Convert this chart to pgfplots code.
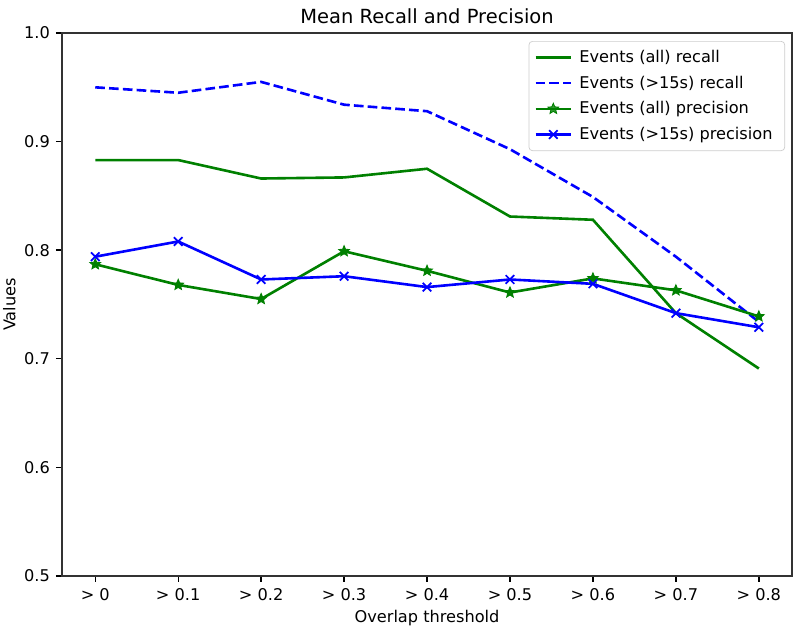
\documentclass[border=0pt]{standalone}
\usepackage{fontspec}
\setmainfont{DejaVu Sans}
\usepackage{pgfplots}
\pgfplotsset{compat=1.18}

% filled five-pointed star, like matplotlib's '*'
\pgfdeclareplotmark{fstar}{%
  \pgfpathmoveto{\pgfpointpolar{90}{\pgfplotmarksize}}%
  \pgfpathlineto{\pgfpointpolar{126}{0.45\pgfplotmarksize}}%
  \pgfpathlineto{\pgfpointpolar{162}{\pgfplotmarksize}}%
  \pgfpathlineto{\pgfpointpolar{198}{0.45\pgfplotmarksize}}%
  \pgfpathlineto{\pgfpointpolar{234}{\pgfplotmarksize}}%
  \pgfpathlineto{\pgfpointpolar{270}{0.45\pgfplotmarksize}}%
  \pgfpathlineto{\pgfpointpolar{306}{\pgfplotmarksize}}%
  \pgfpathlineto{\pgfpointpolar{342}{0.45\pgfplotmarksize}}%
  \pgfpathlineto{\pgfpointpolar{18}{\pgfplotmarksize}}%
  \pgfpathlineto{\pgfpointpolar{54}{0.45\pgfplotmarksize}}%
  \pgfpathclose
  \pgfusepathqfillstroke
}

\definecolor{mplgreen}{rgb}{0,0.5,0}
\definecolor{mplblue}{rgb}{0,0,1}

\begin{document}
\begin{tikzpicture}
\begin{axis}[
    name=ax,
    scale only axis,
    width=419.8pt, height=312.2pt,
    xmin=-0.4, xmax=8.4,
    ymin=0.5, ymax=1.0,
    xtick={0,1,2,3,4,5,6,7,8},
    xticklabels={{> 0},{> 0.1},{> 0.2},{> 0.3},{> 0.4},{> 0.5},{> 0.6},{> 0.7},{> 0.8}},
    ytick={0.5,0.6,0.7,0.8,0.9,1.0},
    yticklabel style={/pgf/number format/.cd,fixed,fixed zerofill,precision=1,assume math mode=true},
    tick align=outside,
    xtick pos=bottom, ytick pos=left,
    major tick length=3.5pt,
    every tick/.style={black, line width=0.8pt},
    axis line style={line width=0.8pt, black!80},
    tick label style={font=\fontsize{9.3}{11}\selectfont},
    title={Mean Recall and Precision},
    title style={font=\fontsize{11.2}{13}\selectfont, yshift=-4pt},
    xlabel={Overlap threshold},
    ylabel={Values},
    xlabel shift=-1pt,
    ylabel shift=-2pt,
    label style={font=\fontsize{9.3}{11}\selectfont},
    legend cell align=left,
    legend style={
        at={(1,1)}, anchor=north east, xshift=-4pt, yshift=-4.6pt,
        draw=black!20, rounded corners=2pt, fill=white, fill opacity=0.8, text opacity=1,
        font=\fontsize{9.3}{11}\selectfont,
        row sep=2.2pt, inner sep=3pt,
        nodes={inner xsep=4pt},
    },
    legend image code/.code={\draw[line width=1.5pt, mark repeat=2, mark phase=2] plot coordinates {(0cm,0cm) (0.36cm,0cm) (0.72cm,0cm)};},
]
\addplot[mplgreen, line width=1.5pt, solid, mark=none] coordinates {
    (0,0.883) (1,0.883) (2,0.866) (3,0.867) (4,0.875)
    (5,0.831) (6,0.828) (7,0.742) (8,0.691)
};
\addlegendentry{Events (all) recall}
\addplot[mplblue, line width=1.5pt, dash pattern=on 5.55pt off 2.4pt, mark=none] coordinates {
    (0,0.950) (1,0.945) (2,0.955) (3,0.934) (4,0.928)
    (5,0.893) (6,0.849) (7,0.794) (8,0.734)
};
\addlegendentry{Events (>15s) recall}
\addplot[mplgreen, line width=1.5pt, solid, mark=fstar, mark size=3.2pt, mark options={solid, line width=0.5pt, fill=mplgreen}] coordinates {
    (0,0.787) (1,0.768) (2,0.755) (3,0.799) (4,0.781)
    (5,0.761) (6,0.774) (7,0.763) (8,0.739)
};
\addlegendentry{Events (all) precision}
\addplot[mplblue, line width=1.5pt, solid, mark=x, mark size=3.5pt, mark options={solid, line width=1pt}] coordinates {
    (0,0.794) (1,0.808) (2,0.773) (3,0.776) (4,0.766)
    (5,0.773) (6,0.769) (7,0.742) (8,0.729)
};
\addlegendentry{Events (>15s) precision}
\end{axis}
\pgfresetboundingbox
\path[use as bounding box] ([shift={(-35.7pt,-31.6pt)}]ax.south west) rectangle ([shift={(4.6pt,19pt)}]ax.north east);
\end{tikzpicture}
\end{document}
